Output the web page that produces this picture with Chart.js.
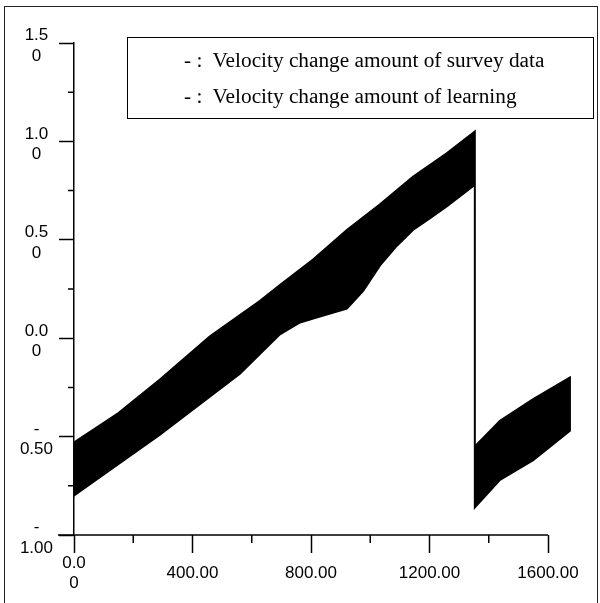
<!DOCTYPE html>
<html>
<head>
<meta charset="utf-8">
<script src="https://cdn.jsdelivr.net/npm/chart.js@4.4.1/dist/chart.umd.min.js"></script>
<style>
  html, body { margin: 0; padding: 0; background: #fff; }
  #wrap { position: relative; width: 600px; height: 603px; overflow: hidden; }
  #frame { position: absolute; left: 4px; top: 6px; width: 594px; height: 640px; border: 1.5px solid #222; box-sizing: border-box; }
  #legend { position: absolute; left: 127px; top: 37px; width: 467px; height: 82px; border: 1.5px solid #000; box-sizing: border-box;
            font-family: "Liberation Serif", "Times New Roman", serif; font-size: 21.3px; color: #000; }
  .row { position: absolute; left: 56px; height: 24px; line-height: 24px; white-space: pre; }
</style>
</head>
<body>
<div id="wrap">
  <div id="frame"></div>
  <canvas id="chart"></canvas>
  <div id="legend">
    <div class="row" style="top: 10px">- :  Velocity change amount of survey data</div>
    <div class="row" style="top: 46px">- :  Velocity change amount of learning</div>
  </div>
</div>
<script>
// envelope of the dense band
const leftUpperX = [0, 150, 290, 459, 628, 695, 807, 921, 1033, 1144, 1258, 1353];
const leftUpperY = [-0.53, -0.38, -0.21, 0.01, 0.19, 0.27, 0.40, 0.55, 0.68, 0.82, 0.94, 1.05];
const leftLowerX = [0, 290, 560, 695, 763, 830, 921, 976, 1033, 1090, 1144, 1202, 1258, 1336, 1353];
const leftLowerY = [-0.80, -0.49, -0.18, 0.02, 0.08, 0.11, 0.15, 0.24, 0.37, 0.47, 0.55, 0.61, 0.67, 0.76, 0.78];
const rightUpperX = [1353, 1438, 1550, 1674];
const rightUpperY = [-0.55, -0.42, -0.31, -0.20];
const rightLowerX = [1353, 1438, 1550, 1674];
const rightLowerY = [-0.86, -0.72, -0.62, -0.47];

// axis ticks
const xTickValues = [0, 400, 800, 1200, 1600];
const xTickLabels = [['0.0', '0'], '400.00', '800.00', '1200.00', '1600.00'];
const xMinorTicks = [200, 600, 1000, 1400];
const yTickValues = [-1, -0.5, 0, 0.5, 1, 1.5];
const yTickLabels = [['-', '1.00'], ['-', '0.50'], ['0.0', '0'], ['0.5', '0'], ['1.0', '0'], ['1.5', '0']];
const yMinorTicks = [-0.75, -0.25, 0.25, 0.75, 1.25];

function pts(xs, ys) {
    return xs.map((x, i) => ({ x: x, y: ys[i] }));
}

// outline of the band: top edge left to right, bottom edge back
const outline = [
    ...pts(leftUpperX, leftUpperY),
    ...pts(rightUpperX, rightUpperY),
    ...pts(rightLowerX, rightLowerY).reverse(),
    ...pts(leftLowerX, leftLowerY).reverse()
];
outline.push(outline[0]);

const tickFont = { family: 'Arial, "Liberation Sans", sans-serif', size: 17, lineHeight: 1.2 };

// minor ticks and the x axis line (which stops at 1600)
const axisExtras = {
    id: 'axisExtras',
    afterDraw(chart) {
        const { ctx } = chart;
        const x = chart.scales.x, y = chart.scales.y;
        const x0 = x.getPixelForValue(0);
        const yb = y.getPixelForValue(-1);
        ctx.save();
        ctx.strokeStyle = '#000';
        ctx.lineWidth = 1.5;
        ctx.beginPath();
        ctx.moveTo(x0 - 16, yb);
        ctx.lineTo(x.getPixelForValue(1600), yb);
        yMinorTicks.forEach(v => {
            const py = y.getPixelForValue(v);
            ctx.moveTo(x0 - 6, py);
            ctx.lineTo(x0, py);
        });
        xMinorTicks.forEach(v => {
            const px = x.getPixelForValue(v);
            ctx.moveTo(px, yb);
            ctx.lineTo(px, yb + 8);
        });
        ctx.stroke();
        ctx.restore();
    }
};

new Chart(document.getElementById('chart'), {
    type: 'line',
    data: {
        datasets: [{
            data: outline,
            borderColor: '#000',
            backgroundColor: '#000',
            borderWidth: 2,
            fill: 'shape',
            pointRadius: 0,
            tension: 0
        }]
    },
    options: {
        responsive: true,
        maintainAspectRatio: false,
        animation: false,
        layout: { padding: { left: 0, top: 43, right: 28.3, bottom: 0 } },
        plugins: {
            legend: { display: false },
            tooltip: { enabled: false }
        },
        scales: {
            x: {
                type: 'linear',
                min: 0,
                max: 1680,
                afterBuildTicks: s => { s.ticks = xTickValues.map(v => ({ value: v })); },
                afterFit: s => { s.height = 68; },
                border: { display: false },
                grid: { drawOnChartArea: false, drawTicks: true, tickLength: 18, tickColor: '#000', tickWidth: 1.5 },
                ticks: {
                    font: tickFont,
                    color: '#000',
                    padding: 10,
                    crossAlign: 'center',
                    maxRotation: 0,
                    autoSkip: false,
                    callback: (v, i) => xTickLabels[i]
                }
            },
            y: {
                min: -1,
                max: 1.5,
                afterBuildTicks: s => { s.ticks = yTickValues.map(v => ({ value: v })); },
                afterFit: s => { s.width = 74; },
                border: { display: true, color: '#000', width: 1.5 },
                grid: { drawOnChartArea: false, drawTicks: true, tickLength: 15, tickColor: '#000', tickWidth: 1.5 },
                ticks: {
                    font: tickFont,
                    color: '#000',
                    padding: 6,
                    labelOffset: 3,
                    crossAlign: 'center',
                    autoSkip: false,
                    callback: (v, i) => yTickLabels[i]
                }
            }
        }
    },
    plugins: [axisExtras]
});
</script>
</body>
</html>
